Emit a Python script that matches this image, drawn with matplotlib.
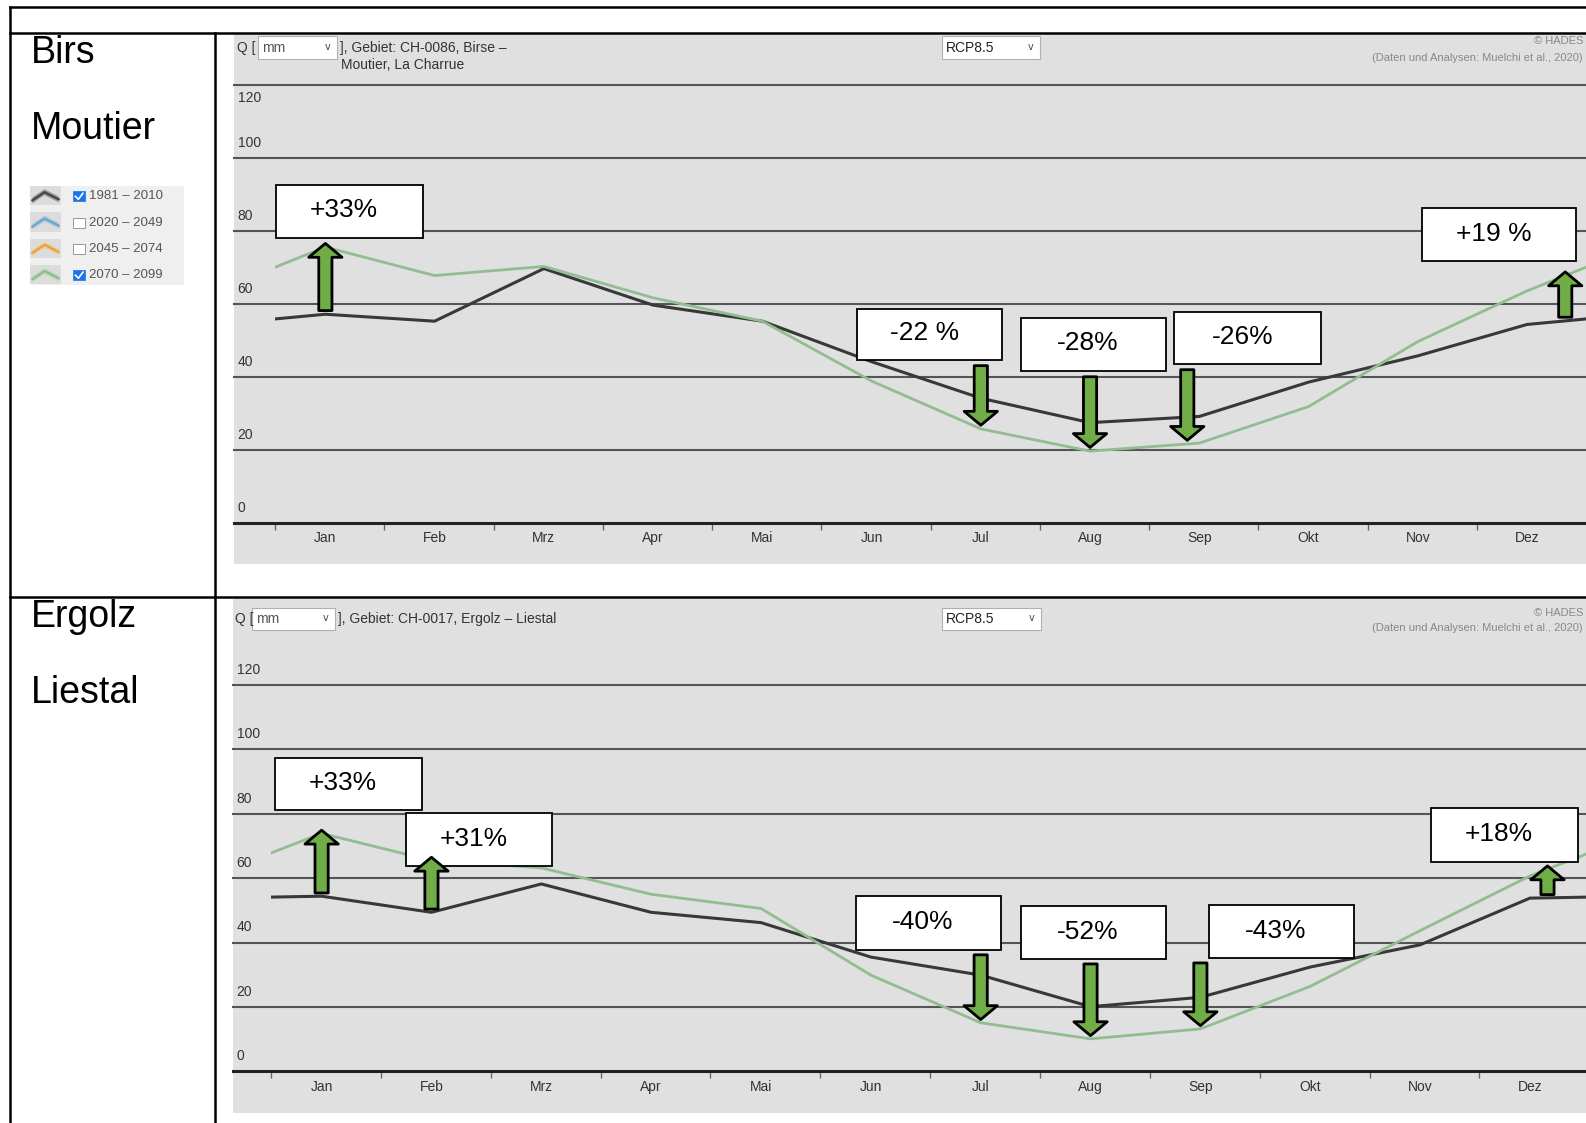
import matplotlib
matplotlib.use('Agg')
import matplotlib.pyplot as plt
import matplotlib.patches as mpatches
from matplotlib.lines import Line2D
from matplotlib import font_manager
import numpy as np

months = ['Jan', 'Feb', 'Mrz', 'Apr', 'Mai', 'Jun', 'Jul', 'Aug', 'Sep', 'Okt', 'Nov', 'Dez']
periods = ['1981 – 2010', '2020 – 2049', '2045 – 2074', '2070 – 2099']
periods_checked = [True, False, False, True]
y_ticks = [0, 20, 40, 60, 80, 100, 120]

# mittlerer Abfluss Q [mm] pro Monat, RCP8.5
birs_ref = [57.2, 55.3, 69.7, 59.7, 55.3, 44.2, 34.2, 27.5, 29.2, 38.6, 45.8, 54.4]
birs_fut = [75.6, 67.8, 70.3, 61.7, 55.3, 38.9, 25.8, 19.7, 21.9, 31.9, 49.7, 63.6]
ergolz_ref = [54.4, 49.4, 58.2, 49.4, 46.2, 35.5, 29.9, 20.1, 23.0, 32.4, 39.3, 53.8]
ergolz_fut = [73.9, 65.5, 63.2, 55.0, 50.6, 29.9, 15.1, 10.1, 13.2, 26.4, 43.7, 60.7]

birs_labels = ['+33%', '-22 %', '-28%', '-26%', '+19 %']
birs_arrow_months = [0, 6, 7, 7.89, 11.35]
ergolz_labels = ['+33%', '+31%', '-40%', '-52%', '-43%', '+18%']
ergolz_arrow_months = [0, 1, 6, 7, 8, 11.16]

installed = {f.name for f in font_manager.fontManager.ttflist}
NARROW = 'Liberation Sans Narrow' if 'Liberation Sans Narrow' in installed else 'Liberation Sans'
SMALL = 11 if NARROW == 'Liberation Sans Narrow' else 10
plt.rcParams['font.family'] = ['Liberation Sans', 'DejaVu Sans']

W, H = 1568, 1110


def fx(x):
    return x / W


def fy(y):
    return 1 - y / H


fig = plt.figure(figsize=(15.86, 11.23), dpi=100)


def fline(xs, ys, **kw):
    fig.add_artist(Line2D([fx(v) for v in xs], [fy(v) for v in ys],
                          transform=fig.transFigure, **kw))


def frect(x0, y0, x1, y1, **kw):
    r = mpatches.Rectangle((fx(x0), fy(y1)), fx(x1) - fx(x0), fy(y0) - fy(y1),
                           transform=fig.transFigure, **kw)
    fig.add_artist(r)
    return r


def dropdown(x0, x1, yc, text, color):
    frect(x0, yc - 11, x1, yc + 11, fc='white', ec='#b0b0b0', lw=0.8, zorder=2)
    fig.text(fx(x0 + 4), fy(yc), text, ha='left', va='center', fontsize=SMALL,
             color=color, family=NARROW, zorder=3)
    fig.text(fx(x1 - 9), fy(yc - 1), 'v', ha='center', va='center', fontsize=7,
             color='#444', family='DejaVu Sans', zorder=3)


def draw_chart(bg, y_zero, y_top, tick0, step, ref, fut, labels, arrow_months,
               boxes, label_120_below):
    frect(*bg, fc='#e0e0e0', ec='none', zorder=-1)
    left = bg[0]
    ax = fig.add_axes([fx(left), fy(y_zero), 1 - fx(left), (y_zero - y_top) / H])
    ax.set_facecolor('none')
    ax.set_xlim(-0.46 - (tick0 - left) / step, -0.46 + (W - tick0) / step)
    ax.set_ylim(0, 120)
    for s in ['top', 'left', 'right']:
        ax.spines[s].set_visible(False)
    ax.spines['bottom'].set_color('#222')
    ax.spines['bottom'].set_linewidth(2.2)
    ax.set_yticks([])

    ppu = (y_zero - y_top) / 120
    for v in y_ticks[1:]:
        ax.axhline(v, color='#555', lw=1.5, zorder=1, clip_on=False)
    for v in y_ticks:
        off = 15 / ppu
        if v == 120 and label_120_below:
            off = -13 / ppu
        ax.text(0.003, v + off, str(v), transform=ax.get_yaxis_transform(),
                ha='left', va='center', fontsize=SMALL, color='#333', family=NARROW)

    ax.set_xticks([k - 0.46 for k in range(12)])
    ax.set_xticklabels([])
    ax.set_xticks(range(12), minor=True)
    ax.set_xticklabels(months, minor=True, family=NARROW, fontsize=SMALL, color='#333')
    ax.tick_params(axis='x', which='major', length=5, width=1, color='#666')
    ax.tick_params(axis='x', which='minor', length=0, pad=6)

    x = np.arange(-1, 13)
    ext_ref = np.r_[ref[-1], ref, ref[0]]
    ext_fut = np.r_[fut[-1], fut, fut[0]]
    for vals, color, lw in [(ext_ref, '#383838', 2.2), (ext_fut, '#93bd90', 2.0)]:
        line, = ax.plot(x, vals, color=color, lw=lw, zorder=3)
        line.set_clip_path(mpatches.Rectangle((-0.46, -50), 20, 300, transform=ax.transData))

    def to_data(xp, yp):
        return (xp - tick0) / step - 0.46, (y_zero - yp) / ppu

    for label, m, box in zip(labels, arrow_months, boxes):
        bx0, by0 = to_data(box[0], box[3])
        bx1, by1 = to_data(box[2], box[1])
        ax.add_patch(mpatches.Rectangle((bx0, by0), bx1 - bx0, by1 - by0, fc='white',
                                        ec='black', lw=1.3, zorder=5, clip_on=False))
        ax.text((bx0 + bx1) / 2 - 0.05, (by0 + by1) / 2 + 0.3, label, ha='center',
                va='center', fontsize=19, color='black', zorder=6)

        r = np.interp(m, x, ext_ref)
        f = np.interp(m, x, ext_fut)
        if label.startswith('+'):
            y_from, y_to = r + 1, f + 1
        else:
            y_from, y_to = by0 - 1.5, f + 1
        ax.annotate('', xy=(m, y_to), xytext=(m, y_from), zorder=7,
                    arrowprops=dict(arrowstyle='simple,head_length=1.0,head_width=2.4,tail_width=0.95',
                                    mutation_scale=10, fc='#70ad47', ec='black', lw=2,
                                    shrinkA=0, shrinkB=0))
    return ax


# Birs - Moutier
draw_chart((231, 34, W, 557), 517, 84, 272, 108, birs_ref, birs_fut,
           birs_labels, birs_arrow_months,
           [(273, 183, 418, 235), (847, 305, 991, 356), (1009, 314, 1153, 367),
            (1161, 308, 1306, 360), (1406, 206, 1558, 258)], True)
fig.text(fx(234), fy(47), 'Q [', ha='left', va='center', fontsize=SMALL, color='#333', family=NARROW)
dropdown(255, 333, 47, 'mm', '#555')
fig.text(fx(336), fy(47), '], Gebiet: CH-0086, Birse –', ha='left', va='center',
         fontsize=SMALL, color='#333', family=NARROW)
fig.text(fx(337), fy(64), 'Moutier, La Charrue', ha='left', va='center',
         fontsize=SMALL, color='#333', family=NARROW)
dropdown(931, 1028, 47, 'RCP8.5', '#222')
fig.text(fx(1565), fy(41), '© HADES', ha='right', va='center', fontsize=SMALL - 2,
         color='#888', family=NARROW)
fig.text(fx(1565), fy(57), '(Daten und Analysen: Muelchi et al., 2020)', ha='right',
         va='center', fontsize=SMALL - 2, color='#888', family=NARROW)

# Ergolz - Liestal
draw_chart((230, 592, W, 1100), 1059, 677, 268, 108.6, ergolz_ref, ergolz_fut,
           ergolz_labels, ergolz_arrow_months,
           [(272, 749, 417, 801), (401, 804, 546, 856), (846, 886, 990, 939),
            (1009, 896, 1153, 948), (1195, 895, 1339, 947), (1415, 799, 1560, 852)], False)
fig.text(fx(232), fy(612), 'Q [', ha='left', va='center', fontsize=SMALL, color='#333', family=NARROW)
dropdown(249, 331, 612, 'mm', '#555')
fig.text(fx(334), fy(612), '], Gebiet: CH-0017, Ergolz – Liestal', ha='left', va='center',
         fontsize=SMALL, color='#333', family=NARROW)
dropdown(931, 1029, 612, 'RCP8.5', '#222')
fig.text(fx(1565), fy(606), '© HADES', ha='right', va='center', fontsize=SMALL - 2,
         color='#888', family=NARROW)
fig.text(fx(1565), fy(621), '(Daten und Analysen: Muelchi et al., 2020)', ha='right',
         va='center', fontsize=SMALL - 2, color='#888', family=NARROW)

# table frame
frame = dict(color='black', lw=1.8, zorder=10)
fline([10, W], [7, 7], **frame)
fline([10, W], [33, 33], **frame)
fline([10, W], [590, 590], **frame)
fline([10, 10], [7, H], **frame)
fline([213, 213], [33, H], **frame)

for text, y in [('Birs', 52), ('Moutier', 128), ('Ergolz', 610), ('Liestal', 685)]:
    fig.text(fx(31), fy(y), text, ha='left', va='center', fontsize=27, color='black')

# period legend
frect(30, 184, 182, 282, fc='#efefef', ec='none', zorder=1)
icon_colors = [('#444444', '#8a8a8a'), ('#6aa5c7', '#a3c9df'),
               ('#e6a23c', '#f1c98a'), ('#8fbb8c', '#b9d5b6')]
for i, (period, checked) in enumerate(zip(periods, periods_checked)):
    yc = 194 + i * 26
    frect(30, yc - 10, 60, yc + 9, fc='#dcdcdc', ec='none', zorder=2)
    lc, bc = icon_colors[i]
    px = [32, 44, 58]
    py = [yc + 4, yc - 4, yc + 3]
    band = [(fx(a), fy(b - 3)) for a, b in zip(px, py)] + \
           [(fx(a), fy(b + 3)) for a, b in zip(px[::-1], py[::-1])]
    fig.add_artist(mpatches.Polygon(band, closed=True, transform=fig.transFigure,
                                    fc=bc, ec='none', alpha=0.8, zorder=3))
    fline(px, py, color=lc, lw=1.6, zorder=4)
    if checked:
        frect(72, yc - 5, 84, yc + 5, fc='#1a73e8', ec='#1a73e8', lw=0.5, zorder=3)
        fline([74.5, 77.5, 82], [yc, yc + 3, yc - 3], color='white', lw=1.2, zorder=4)
    else:
        frect(72, yc - 5, 84, yc + 5, fc='white', ec='#888', lw=0.6, zorder=3)
    fig.text(fx(88), fy(yc), period, ha='left', va='center', fontsize=9.5,
             color='#555', zorder=4)

fig.savefig('out.png', dpi=100)
